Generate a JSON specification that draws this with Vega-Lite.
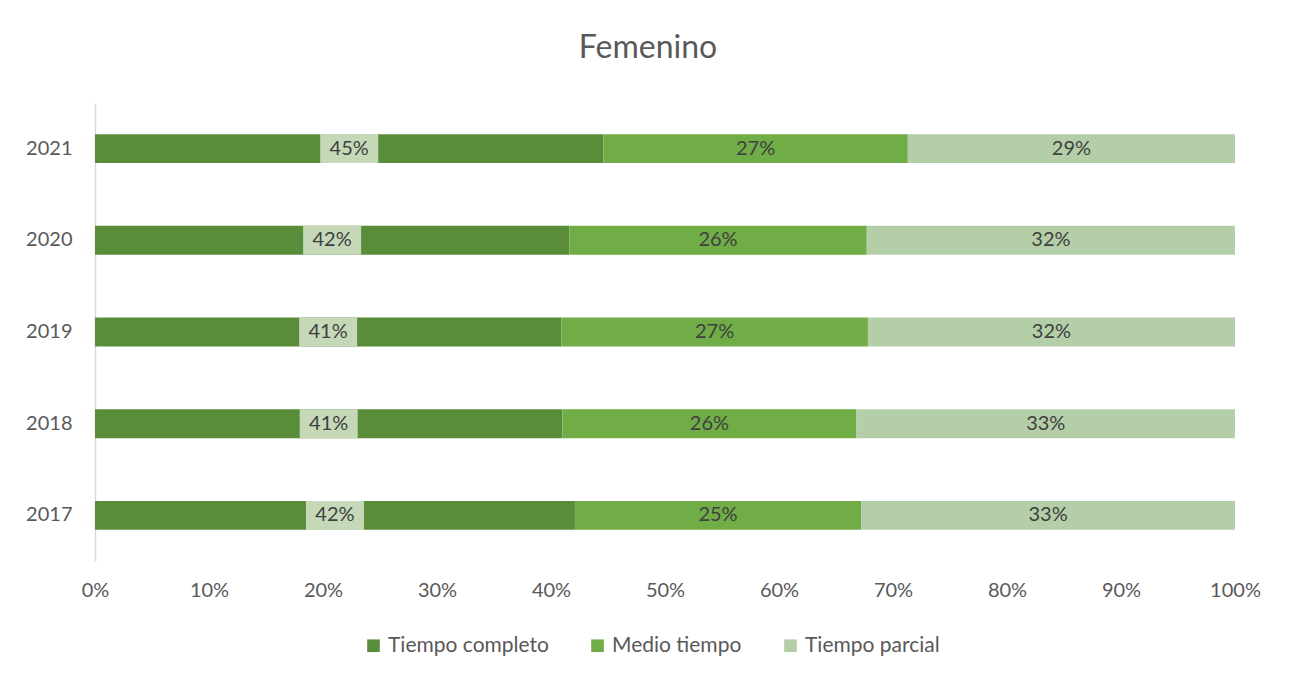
{
  "$schema": "https://vega.github.io/schema/vega-lite/v6.json",
  "width": 1140,
  "height": 458,
  "autosize": {"type": "none"},
  "padding": {"left": 95, "top": 103, "right": 56, "bottom": 120},
  "background": "white",
  "title": {"text": "Femenino", "fontSize": 32, "font": "Lato", "fontWeight": "normal", "color": "#595959", "anchor": "middle", "frame": "group", "offset": 38, "dx": -17},
  "data": {"values": [
    {"year": "2021", "tipo": "Tiempo completo", "ord": 1, "v": 44.6, "lab": "45%"},
    {"year": "2021", "tipo": "Medio tiempo", "ord": 2, "v": 26.7, "lab": "27%"},
    {"year": "2021", "tipo": "Tiempo parcial", "ord": 3, "v": 28.7, "lab": "29%"},
    {"year": "2020", "tipo": "Tiempo completo", "ord": 1, "v": 41.6, "lab": "42%"},
    {"year": "2020", "tipo": "Medio tiempo", "ord": 2, "v": 26.1, "lab": "26%"},
    {"year": "2020", "tipo": "Tiempo parcial", "ord": 3, "v": 32.3, "lab": "32%"},
    {"year": "2019", "tipo": "Tiempo completo", "ord": 1, "v": 40.9, "lab": "41%"},
    {"year": "2019", "tipo": "Medio tiempo", "ord": 2, "v": 26.9, "lab": "27%"},
    {"year": "2019", "tipo": "Tiempo parcial", "ord": 3, "v": 32.2, "lab": "32%"},
    {"year": "2018", "tipo": "Tiempo completo", "ord": 1, "v": 41.0, "lab": "41%"},
    {"year": "2018", "tipo": "Medio tiempo", "ord": 2, "v": 25.8, "lab": "26%"},
    {"year": "2018", "tipo": "Tiempo parcial", "ord": 3, "v": 33.2, "lab": "33%"},
    {"year": "2017", "tipo": "Tiempo completo", "ord": 1, "v": 42.1, "lab": "42%"},
    {"year": "2017", "tipo": "Medio tiempo", "ord": 2, "v": 25.1, "lab": "25%"},
    {"year": "2017", "tipo": "Tiempo parcial", "ord": 3, "v": 32.8, "lab": "33%"}
  ]},
  "transform": [
    {"stack": "v", "groupby": ["year"], "sort": [{"field": "ord"}], "as": ["x0", "x1"], "offset": "normalize"},
    {"calculate": "(datum.x0 + datum.x1) / 2", "as": "mid"}
  ],
  "encoding": {
    "y": {"field": "year", "type": "nominal", "sort": "descending", "title": null,
      "scale": {"paddingInner": 0.685, "paddingOuter": 0.34},
      "axis": {"labelFont": "Lato", "labelFontSize": 20, "labelColor": "#595959", "labelPadding": 23, "ticks": false, "domainColor": "#d9d9d9", "domainWidth": 1.5}}
  },
  "layer": [
    {
      "mark": {"type": "bar"},
      "encoding": {
        "x": {"field": "x0", "type": "quantitative", "scale": {"domain": [0, 1]}, "title": null,
          "axis": {"format": ".0%", "values": [0,0.1,0.2,0.3,0.4,0.5,0.6,0.7,0.8,0.9,1], "labelOverlap": false, "labelFlush": false, "grid": false, "domain": false, "ticks": false, "labelFont": "Lato", "labelFontSize": 20, "labelColor": "#595959", "labelPadding": 19}},
        "x2": {"field": "x1"},
        "color": {"field": "tipo", "type": "nominal",
          "scale": {"domain": ["Tiempo completo", "Medio tiempo", "Tiempo parcial"], "range": ["#5a8d3a", "#70ad47", "#b4cfa7"]},
          "sort": ["Tiempo completo", "Medio tiempo", "Tiempo parcial"],
          "legend": {"title": null, "orient": "none", "direction": "horizontal", "legendX": 268, "legendY": 532, "symbolType": "square", "symbolSize": 160, "symbolStrokeWidth": 0, "symbolOpacity": 1, "labelFont": "Lato", "labelFontSize": 21, "labelColor": "#595959", "labelLimit": 0, "columnPadding": 38, "labelOffset": 4}}
      }
    },
    {
      "transform": [{"filter": "datum.ord == 1"}],
      "mark": {"type": "point", "shape": "M-1,-0.5H1V0.5H-1Z", "size": 3364, "filled": true, "fill": "#c5d9b8", "opacity": 1, "strokeWidth": 0},
      "encoding": {"x": {"field": "mid", "type": "quantitative"}}
    },
    {
      "mark": {"type": "text", "font": "Lato", "fontSize": 20, "color": "#404040", "baseline": "middle", "align": "center"},
      "encoding": {
        "x": {"field": "mid", "type": "quantitative"},
        "text": {"field": "lab"}
      }
    }
  ],
  "config": {"view": {"stroke": null}}
}
